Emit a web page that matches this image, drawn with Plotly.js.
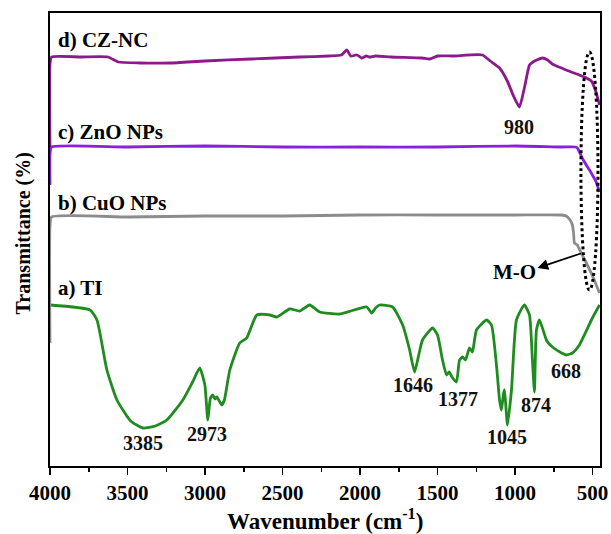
<!DOCTYPE html>
<html><head><meta charset="utf-8">
<script src="https://cdn.plot.ly/plotly-3.0.1.min.js"></script>
<style>html,body{margin:0;padding:0;background:#fff}#c{width:611px;height:534px}</style>
</head><body><div id="c"></div>
<script>
// a) TI
const tiX = [4000,3742,3697,3633,3568,3480,3400,3320,3246,3143,3080,3034,3001,2982,2965,2950,2935,2924,2892,2875,2840,2776,2731,2666,2582,2537,2454,2389,2325,2260,2131,1957,1925,1900,1874,1790,1725,1680,1648,1620,1597,1532,1500,1468,1442,1425,1403,1378,1358,1339,1320,1294,1275,1249,1184,1152,1120,1100,1088,1075,1068,1049,1023,991,940,907,888,875,862,843,798,785,759,700,669,630,585,501,455];
const tiY = [161,156,146,96,66,45,38,40,46,66,84,98,81,46,68,71,67,69,61,66,96,123,128,151,151,149,157,155,161,154,152,159,153,158,161,159,141,116,94,112,126,138,131,106,91,94,88,84,106,109,106,118,114,136,146,141,101,66,56,72,76,41,76,146,161,151,106,74,136,146,126,123,119,113,111,113,121,148,161];
// b) CuO NPs
const cuoX = [4000,4000,3990,3500,3000,2500,2000,1500,1000,700,670,645,630,622,617,598,583,540,500,455];
const cuoY = [123,240,249,249,250,250,251,251,251,251,250,246,241,232,223,221,216,203,190,173];
// c) ZnO NPs
const znoX = [4000,4000,3990,3500,3000,2500,2000,1500,1000,700,610,598,560,520,480,455];
const znoY = [281,312,319,319,320,319,319,319,320,319,319,318,306,296,285,274];
// d) CZ-NC
const czX = [4000,4000,3990,3800,3626,3560,3420,3227,3000,2700,2390,2200,2120,2086,2060,2020,1990,1960,1940,1900,1800,1600,1550,1500,1400,1210,1160,1100,1050,1010,972,940,907,885,860,823,790,760,733,700,670,620,585,540,508,480,455];
const czY = [318,402,409,409,409,404,403,403,405,407,409,410,411,416,410,411,408,410,409,410,409,408,407,410,410,411,405,398,385,370,359,378,401,404,406,408,406,402,400,398,396,393,391,388,385,375,361];
// tick labels
const tickVals = [4000,3500,3000,2500,2000,1500,1000,500];
const tickText = ['4000','3500','3000','2500','2000','1500','1000','500'];
const minorVals = [3750,3250,2750,2250,1750,1250,750];
// peak labels
const peakLabels = ['3385','2973','1646','1377','1045','874','668','980'];
const seriesNames = ['a) TI','b) CuO NPs','c) ZnO NPs','d) CZ-NC'];

const serif = 'Liberation Serif, Times New Roman, serif';
const colors = ['#1f8c1f','#8c8c8c','#8a1fe0','#8c1a8c'];
const data = [[tiX,tiY],[cuoX,cuoY],[znoX,znoY],[czX,czY]];
const traces = data.map((d,i) => ({
  type:'scatter', mode:'lines', hoverinfo:'skip', name: seriesNames[i],
  x: d[0], y: d[1], line:{color: colors[i], width: 2.8, shape:'spline', smoothing: 0.5}
}));

const lblFont = {family: serif, size: 21, color: '#000', weight: 'bold'};
const numFont = {family: serif, size: 20, color: '#111', weight: 'bold'};
function lbl(text, x, y){ return {text, xref:'paper', yref:'y', x, y, xanchor:'left', yanchor:'middle', showarrow:false, font: lblFont}; }
function num(text, x, y){ return {text, xref:'x', yref:'y', x, y, xanchor:'center', yanchor:'middle', showarrow:false, font: numFont}; }

const layout = {
  width: 611, height: 534,
  margin: {l:50, r:11, t:13, b:68},
  paper_bgcolor:'#fff', plot_bgcolor:'#fff',
  showlegend: false,
  xaxis: {
    range: [4000, 452], autorange: false,
    tickvals: tickVals, ticktext: tickText,
    ticks: 'outside', ticklen: 7, tickwidth: 1.5, tickcolor:'#000',
    minor: {tickvals: minorVals, ticks:'outside', ticklen:4, tickwidth:1.5, tickcolor:'#000'},
    showline: true, linecolor:'#000', linewidth: 1.8, mirror: true,
    showgrid: false, zeroline: false,
    tickfont: {family: serif, size: 21, color:'#000', weight:'bold'}
  },
  yaxis: {
    range: [0, 453], autorange: false,
    showticklabels: false, ticks: '',
    showline: true, linecolor:'#000', linewidth: 1.8, mirror: true, layer: 'below traces',
    showgrid: false, zeroline: false
  },
  annotations: [
    {text:'Wavenumber (cm<sup>-1</sup>)', xref:'paper', yref:'paper', x:0.5, y:-0.118, xanchor:'center', yanchor:'middle',
     showarrow:false, font:{family: serif, size: 23, color:'#000', weight:'bold'}},
    {text:'Transmittance (%)', xref:'paper', yref:'y', x:-0.05, y:232, xanchor:'center', yanchor:'middle', textangle:-90,
     showarrow:false, font:{family: serif, size: 20, color:'#000', weight:'bold'}},
    lbl(seriesNames[3], 0.01, 426),
    lbl(seriesNames[2], 0.01, 334),
    lbl(seriesNames[1], 0.01, 263),
    lbl(seriesNames[0], 0.01, 178),
    num(peakLabels[7], 972, 339),
    num(peakLabels[0], 3400, 23),
    num(peakLabels[1], 2985, 32),
    num(peakLabels[2], 1660, 81),
    num(peakLabels[3], 1370, 67),
    num(peakLabels[4], 1049, 29),
    num(peakLabels[5], 867, 61),
    num(peakLabels[6], 669, 95),
    {text:'M-O', xref:'x', yref:'y', x:1004, y:194, showarrow:false, font: lblFont, xanchor:'center', yanchor:'middle'},
    {text:'', xref:'x', yref:'y', x:856, y:198, ax:566, ay:213, axref:'x', ayref:'y',
     showarrow:true, arrowhead:2, arrowsize:1.2, arrowwidth:1.8, arrowcolor:'#000'}
  ],
  shapes: [
    {type:'circle', xref:'x', yref:'y', x0:575, x1:465, y0:176, y1:414,
     line:{color:'#000', width:3, dash:'dot'}}
  ]
};
Plotly.newPlot('c', traces, layout, {displayModeBar:false, staticPlot:true});
</script></body></html>
